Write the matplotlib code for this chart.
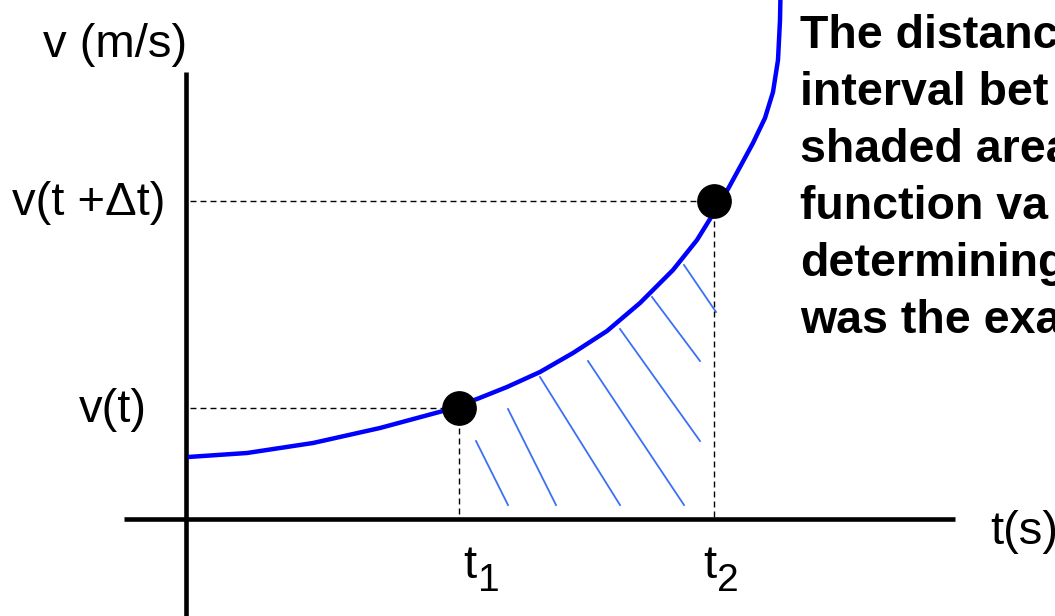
import matplotlib
matplotlib.use("Agg")
import matplotlib.pyplot as plt

plt.rcParams['font.family'] = ['Liberation Sans', 'DejaVu Sans']

# velocity curve (t in s, v in m/s, arbitrary units)
curve_t = [0.02, 0.61, 1.27, 1.94, 2.57, 2.74, 2.91, 3.21, 3.54, 3.87, 4.21, 4.54,
           4.87, 5.11, 5.24, 5.42, 5.54, 5.67, 5.79, 5.87, 5.92, 5.94, 5.945]
curve_v = [0.62, 0.66, 0.76, 0.91, 1.08, 1.14, 1.20, 1.32, 1.47, 1.66, 1.88, 2.16,
           2.49, 2.79, 3.00, 3.30, 3.52, 3.76, 4.01, 4.27, 4.59, 4.99, 5.24]

t1, v1 = 2.73, 1.11
t2, v2 = 5.28, 3.18

# hatch strokes under the curve (start t, start v, end t, end v)
hatch_t0 = [2.90, 3.22, 3.54, 4.02, 4.34, 4.66, 4.98]
hatch_v0 = [0.78, 1.10, 1.42, 1.58, 1.90, 2.22, 2.54]
hatch_t1 = [3.22, 3.70, 4.34, 4.98, 5.14, 5.14, 5.30]
hatch_v1 = [0.14, 0.14, 0.14, 0.14, 0.78, 1.58, 2.07]

# the note is cut off by the right edge of the picture
note_lines = [
    "The distanc",
    "interval bet",
    "shaded area",
    "function va",
    "determining",
    "was the exa",
]

fig = plt.figure(figsize=(10.55, 6.16), dpi=100)
ax = fig.add_axes([0, 0, 1, 1])
ax.set_xlim(-1.86, 8.69)
ax.set_ylim(-0.97, 5.19)
ax.axis('off')

# axes
ax.plot([-0.62, 7.69], [0, 0], color='black', lw=3.3, solid_capstyle='butt')
ax.plot([0, 0], [-0.97, 4.47], color='black', lw=3.3, solid_capstyle='butt')

# hatching
for a, b, c, d in zip(hatch_t0, hatch_v0, hatch_t1, hatch_v1):
    ax.plot([a, c], [b, d], color='#3b6ff5', lw=1.3)

# dashed guides
dash = dict(color='black', lw=1.0, dashes=(4.3, 2.9))
ax.plot([0.04, t1], [v1, v1], **dash)
ax.plot([0.04, t2], [v2, v2], **dash)
ax.plot([t1, t1], [v1, 0], **dash)
ax.plot([t2, t2], [v2, 0], **dash)

ax.plot(curve_t, curve_v, color='#0000ff', lw=3.2, solid_capstyle='butt',
        solid_joinstyle='round')
ax.plot([t1, t2], [v1, v2], 'o', color='black', ms=24)

fs = 34
ax.text(0.01, 4.62, "v (m/s)", fontsize=fs, ha='right', va='baseline')
ax.text(-0.21, 3.04, "v(t +\u0394t)", fontsize=fs, ha='right', va='baseline')
ax.text(-0.39, 0.97, "v(t)", fontsize=fs, ha='right', va='baseline')
ax.text(8.04, -0.25, "t(s)", fontsize=fs, ha='left', va='baseline')

# t1, t2 labels with their subscripts
ax.text(2.77, -0.59, "t", fontsize=fs, ha='left', va='baseline')
ax.text(2.92, -0.72, "1", fontsize=28, ha='left', va='baseline')
ax.text(5.17, -0.59, "t", fontsize=fs, ha='left', va='baseline')
ax.text(5.31, -0.72, "2", fontsize=28, ha='left', va='baseline')

for i, line in enumerate(note_lines):
    ax.text(6.14, 4.71 - 0.57 * i, line, fontsize=33.5, fontweight='bold',
            ha='left', va='baseline')

fig.savefig("out.png", dpi=100)
